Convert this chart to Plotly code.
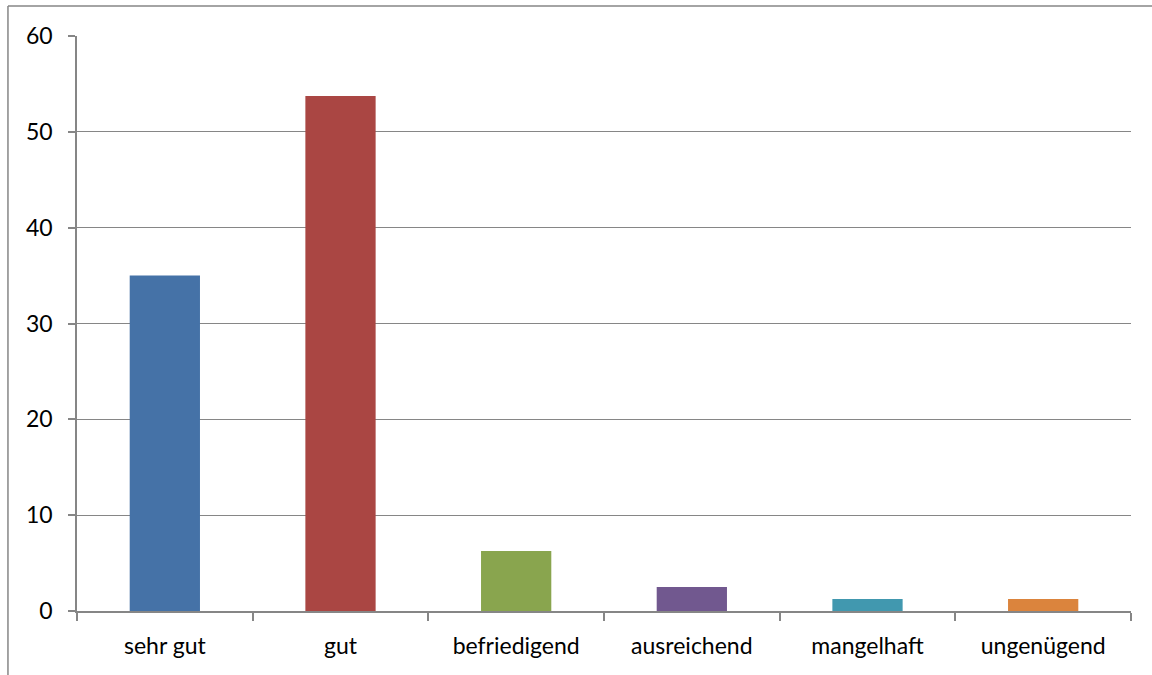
import plotly.graph_objects as go

categories = ["sehr gut", "gut", "befriedigend", "ausreichend", "mangelhaft", "ungenügend"]
values = [35, 53.75, 6.25, 2.5, 1.25, 1.25]
colors = ["#4572A7", "#AA4643", "#89A54E", "#71588F", "#4198AF", "#DB843D"]
y_ticks = [0, 10, 20, 30, 40, 50, 60]

fig = go.Figure(go.Bar(x=categories, y=values, marker=dict(color=colors, line=dict(width=0)),
                       showlegend=False, hoverinfo="skip"))

grid = "#868686"
fig.update_layout(
    width=1152, height=675,
    margin=dict(l=77, r=21, t=36, b=64),
    paper_bgcolor="white", plot_bgcolor="white",
    bargap=0.6,
    font=dict(family="Lato, Liberation Sans, sans-serif", size=23, color="#000000"),
    xaxis=dict(showline=True, linecolor=grid, linewidth=1.5, ticks="outside", ticklen=8,
               tickcolor=grid, tickwidth=1.5, tickson="boundaries", showgrid=False,
               ticklabelstandoff=14, tickfont=dict(size=23)),
    yaxis=dict(range=[0, 60], tickvals=y_ticks, showline=True, linecolor=grid, linewidth=1.5,
               ticks="outside", ticklen=7, tickcolor=grid, tickwidth=1.5,
               showgrid=True, gridcolor=grid, gridwidth=1.2, zeroline=False,
               ticklabelstandoff=11, tickfont=dict(size=23)),
    shapes=[
        dict(type="line", xref="paper", yref="paper", x0=-0.0655, x1=-0.0655, y0=-0.2, y1=1.0522,
             line=dict(color=grid, width=1.5)),
        dict(type="line", xref="paper", yref="paper", x0=-0.0655, x1=1.03, y0=1.0522, y1=1.0522,
             line=dict(color=grid, width=1.5)),
    ],
)

fig.write_html("out.html", config={"displayModeBar": False},
               post_script="document.body.style.margin='0';document.body.style.overflow='hidden';")
